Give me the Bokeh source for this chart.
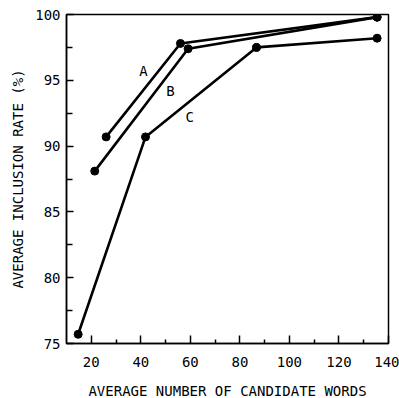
from bokeh.plotting import figure
from bokeh.models import FixedTicker, Range1d
from bokeh.embed import file_html
from bokeh.resources import INLINE
from bokeh.core.properties import value

# Data
a_x = [26.0, 56.0, 135.4]
a_y = [90.7, 97.8, 99.8]
b_x = [21.4, 59.1, 135.4]
b_y = [88.1, 97.4, 99.8]
c_x = [14.7, 41.9, 86.7, 135.4]
c_y = [75.7, 90.7, 97.5, 98.2]

series_labels = ["A", "B", "C"]
label_x = [41.1, 52.0, 59.7]
label_y = [95.7, 94.2, 92.2]

x_ticks = [20, 40, 60, 80, 100, 120, 140]
x_minor = [30, 50, 70, 90, 110, 130]
y_ticks = [75, 80, 85, 90, 95, 100]
y_minor = [77.5, 82.5, 87.5, 92.5, 97.5]

FONT = "DejaVu Sans Mono"

p = figure(width=399, height=398, output_backend="svg", toolbar_location=None,
           x_range=Range1d(10, 140), y_range=Range1d(75, 100),
           min_border_left=66, min_border_right=11, min_border_top=14, min_border_bottom=55)
p.frame_width = 322
p.frame_height = 329

p.xgrid.visible = False
p.ygrid.visible = False
p.outline_line_color = "black"
p.outline_line_width = 1.5
p.outline_line_alpha = 1.0

for ax in (p.xaxis[0], p.yaxis[0]):
    ax.axis_line_color = "black"
    ax.axis_line_width = 1.5
    ax.major_tick_line_color = "black"
    ax.minor_tick_line_color = "black"
    ax.major_tick_line_width = 1.5
    ax.minor_tick_line_width = 1.5
    ax.major_tick_out = 0
    ax.minor_tick_out = 0
    ax.major_label_text_font = FONT
    ax.major_label_text_font_size = "14px"
    ax.major_label_text_color = "black"
    ax.axis_label_text_font = FONT
    ax.axis_label_text_font_size = "14px"
    ax.axis_label_text_font_style = "normal"
    ax.axis_label_text_color = "black"

p.xaxis.ticker = FixedTicker(ticks=x_ticks, minor_ticks=x_minor)
p.yaxis.ticker = FixedTicker(ticks=y_ticks, minor_ticks=y_minor)
p.xaxis.major_tick_in = 8
p.xaxis.minor_tick_in = 4
p.yaxis.major_tick_in = 7
p.yaxis.minor_tick_in = 6
p.xaxis.major_label_standoff = 13
p.yaxis.major_label_standoff = 6
p.xaxis.axis_label = "AVERAGE NUMBER OF CANDIDATE WORDS"
p.yaxis.axis_label = "AVERAGE INCLUSION RATE (%)"
p.xaxis.axis_label_standoff = 13
p.yaxis.axis_label_standoff = 6

for xs, ys in ((a_x, a_y), (b_x, b_y), (c_x, c_y)):
    p.line(xs, ys, line_color="black", line_width=2.6)
    p.scatter(xs, ys, size=8, fill_color="black", line_color="black")

p.text(x=label_x, y=label_y, text=series_labels, text_font=value(FONT),
       text_font_size="14px", text_align="center", text_baseline="middle",
       text_color="black")

open("out.html", "w").write(file_html(p, INLINE))
